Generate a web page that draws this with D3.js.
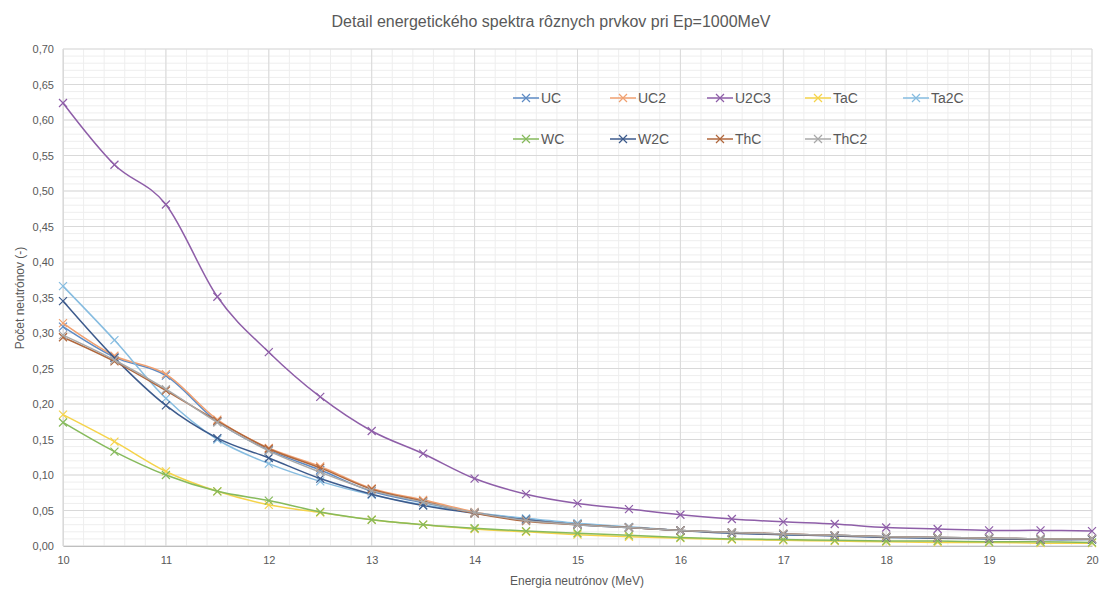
<!DOCTYPE html>
<html>
<head>
<meta charset="utf-8">
<script src="https://cdn.jsdelivr.net/npm/d3@7"></script>
<style>
  html, body { margin: 0; padding: 0; background: #fff; }
  svg { display: block; font-family: "Liberation Sans", "DejaVu Sans", sans-serif; }
</style>
</head>
<body>
<svg id="chart" width="1102" height="592"></svg>
<script>
const energies = [10, 10.5, 11, 11.5, 12, 12.5, 13, 13.5, 14, 14.5, 15, 15.5, 16, 16.5, 17, 17.5, 18, 18.5, 19, 19.5, 20];
const seriesNames = ["UC", "UC2", "U2C3", "TaC", "Ta2C", "WC", "W2C", "ThC", "ThC2"];
const seriesColors = ["#5E8BC4", "#F0A070", "#8E5EA8", "#F5D34A", "#86BCE0", "#86BA5C", "#3C5A8C", "#B0673C", "#A8A8A8"];

const UC   = [0.309, 0.266, 0.240, 0.175, 0.135, 0.107, 0.077, 0.061, 0.047, 0.038, 0.031, 0.026, 0.022, 0.019, 0.017, 0.015, 0.013, 0.012, 0.011, 0.010, 0.010];
const UC2  = [0.314, 0.268, 0.242, 0.178, 0.138, 0.112, 0.081, 0.065, 0.048, 0.037, 0.031, 0.026, 0.022, 0.019, 0.017, 0.015, 0.013, 0.012, 0.011, 0.010, 0.010];
const U2C3 = [0.624, 0.537, 0.481, 0.351, 0.273, 0.210, 0.162, 0.130, 0.095, 0.073, 0.060, 0.052, 0.044, 0.038, 0.034, 0.031, 0.026, 0.024, 0.022, 0.022, 0.021];
const TaC  = [0.185, 0.147, 0.105, 0.077, 0.058, 0.047, 0.037, 0.030, 0.024, 0.020, 0.016, 0.013, 0.011, 0.009, 0.008, 0.007, 0.006, 0.005, 0.005, 0.004, 0.004];
const Ta2C = [0.366, 0.290, 0.208, 0.150, 0.116, 0.091, 0.072, 0.058, 0.047, 0.039, 0.032, 0.027, 0.022, 0.019, 0.016, 0.015, 0.013, 0.012, 0.011, 0.010, 0.010];
const WC   = [0.174, 0.133, 0.100, 0.077, 0.064, 0.048, 0.037, 0.030, 0.025, 0.021, 0.018, 0.015, 0.012, 0.010, 0.009, 0.008, 0.007, 0.007, 0.006, 0.006, 0.005];
const W2C  = [0.345, 0.265, 0.198, 0.152, 0.124, 0.095, 0.073, 0.057, 0.046, 0.037, 0.030, 0.026, 0.022, 0.018, 0.016, 0.014, 0.012, 0.011, 0.010, 0.009, 0.009];
const ThC  = [0.294, 0.260, 0.219, 0.176, 0.137, 0.110, 0.080, 0.063, 0.046, 0.035, 0.030, 0.026, 0.022, 0.019, 0.017, 0.015, 0.013, 0.012, 0.011, 0.010, 0.010];
const ThC2 = [0.297, 0.262, 0.221, 0.174, 0.134, 0.104, 0.078, 0.062, 0.047, 0.036, 0.030, 0.026, 0.022, 0.019, 0.017, 0.015, 0.013, 0.012, 0.011, 0.010, 0.010];
const seriesValues = [UC, UC2, U2C3, TaC, Ta2C, WC, W2C, ThC, ThC2];

const xTicks = [10, 11, 12, 13, 14, 15, 16, 17, 18, 19, 20];
const yTicks = [0, 0.05, 0.10, 0.15, 0.20, 0.25, 0.30, 0.35, 0.40, 0.45, 0.50, 0.55, 0.60, 0.65, 0.70];

const titleText = "Detail energetického spektra rôznych prvkov pri Ep=1000MeV";
const xLabel = "Energia neutrónov (MeV)";
const yLabel = "Počet neutrónov (-)";

const svg = d3.select("#chart");
const m = { left: 63, right: 1092, top: 49, bottom: 546 };
const x = d3.scaleLinear().domain([10, 20]).range([m.left, m.right]);
const y = d3.scaleLinear().domain([0, 0.7]).range([m.bottom, m.top]);
const textColor = "#595959";

// minor grid
const g = svg.append("g");
g.selectAll(".mx").data(d3.range(10, 20.001, 0.2)).join("line")
  .attr("x1", d => x(d)).attr("x2", d => x(d)).attr("y1", m.top).attr("y2", m.bottom)
  .attr("stroke", "#eeeeee").attr("stroke-width", 1);
g.selectAll(".my").data(d3.range(0, 0.7001, 0.01)).join("line")
  .attr("y1", d => y(d)).attr("y2", d => y(d)).attr("x1", m.left).attr("x2", m.right)
  .attr("stroke", "#eeeeee").attr("stroke-width", 1);
// major grid
g.selectAll(".Mx").data(xTicks).join("line")
  .attr("x1", d => x(d)).attr("x2", d => x(d)).attr("y1", m.top).attr("y2", m.bottom)
  .attr("stroke", "#d9d9d9").attr("stroke-width", 1);
g.selectAll(".My").data(yTicks).join("line")
  .attr("y1", d => y(d)).attr("y2", d => y(d)).attr("x1", m.left).attr("x2", m.right)
  .attr("stroke", "#d9d9d9").attr("stroke-width", 1);

// axes
const fmt = d => d3.format(".2f")(d).replace(".", ",");
const xAxis = svg.append("g").attr("transform", `translate(0,${m.bottom})`)
  .call(d3.axisBottom(x).tickValues(xTicks).tickSize(0).tickPadding(10).tickFormat(d3.format("d")));
const yAxis = svg.append("g").attr("transform", `translate(${m.left},0)`)
  .call(d3.axisLeft(y).tickValues(yTicks).tickSize(0).tickPadding(9).tickFormat(fmt));
[xAxis, yAxis].forEach(a => {
  a.selectAll("text").attr("fill", textColor).style("font-size", "11px").style("font-family", "Liberation Sans, sans-serif");
});
xAxis.select(".domain").attr("stroke", "#bfbfbf");
yAxis.select(".domain").attr("stroke", "#d9d9d9");

// series
const line = d3.line().x(d => x(d[0])).y(d => y(d[1])).curve(d3.curveCardinal.tension(0));
seriesNames.forEach((name, i) => {
  const pts = energies.map((e, j) => [e, seriesValues[i][j]]);
  const sg = svg.append("g");
  sg.append("path").datum(pts).attr("d", line).attr("fill", "none")
    .attr("stroke", seriesColors[i]).attr("stroke-width", 1.5);
  const s = 4;
  sg.selectAll("path.mk").data(pts).join("path").attr("class", "mk")
    .attr("d", d => `M${x(d[0]) - s},${y(d[1]) - s}L${x(d[0]) + s},${y(d[1]) + s}M${x(d[0]) - s},${y(d[1]) + s}L${x(d[0]) + s},${y(d[1]) - s}`)
    .attr("stroke", seriesColors[i]).attr("stroke-width", 1.2).attr("fill", "none");
});

// legend
const legendX = [513, 610, 707, 805, 903];
const legendY = [98, 139];
seriesNames.forEach((name, i) => {
  const lx = legendX[i % 5], ly = legendY[Math.floor(i / 5)];
  const lg = svg.append("g");
  lg.append("line").attr("x1", lx).attr("x2", lx + 26).attr("y1", ly).attr("y2", ly)
    .attr("stroke", seriesColors[i]).attr("stroke-width", 1.5);
  const cx = lx + 13, s = 4;
  lg.append("path").attr("d", `M${cx - s},${ly - s}L${cx + s},${ly + s}M${cx - s},${ly + s}L${cx + s},${ly - s}`)
    .attr("stroke", seriesColors[i]).attr("stroke-width", 1.2);
  lg.append("text").attr("x", lx + 28).attr("y", ly).attr("dy", "0.35em")
    .attr("fill", textColor).style("font-size", "14px").text(name);
});

// titles
svg.append("text").attr("x", 551).attr("y", 27).attr("text-anchor", "middle")
  .attr("fill", textColor).style("font-size", "16px").text(titleText);
svg.append("text").attr("x", 577).attr("y", 585).attr("text-anchor", "middle")
  .attr("fill", textColor).style("font-size", "12px").text(xLabel);
svg.append("text").attr("transform", "translate(24,298) rotate(-90)").attr("text-anchor", "middle")
  .attr("fill", textColor).style("font-size", "12px").text(yLabel);
</script>
</body>
</html>
